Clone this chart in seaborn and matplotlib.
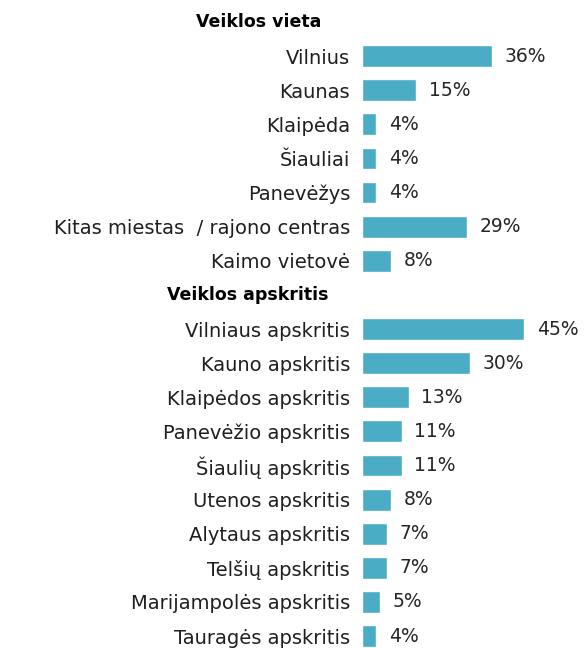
import matplotlib
matplotlib.use("Agg")
import matplotlib.pyplot as plt
import matplotlib.transforms as mtransforms
import seaborn as sns
import pandas as pd
import numpy as np

sns.set_theme(style="white")
plt.rcParams['font.family'] = ['DejaVu Sans']

header1 = "Veiklos vieta"
cities = ["Vilnius", "Kaunas", "Klaipėda", "Šiauliai", "Panevėžys",
          "Kitas miestas  / rajono centras", "Kaimo vietovė"]
city_vals = [36, 15, 4, 4, 4, 29, 8]

header2 = "Veiklos apskritis"
counties = ["Vilniaus apskritis", "Kauno apskritis", "Klaipėdos apskritis",
            "Panevėžio apskritis", "Šiaulių apskritis", "Utenos apskritis",
            "Alytaus apskritis", "Telšių apskritis", "Marijampolės apskritis",
            "Tauragės apskritis"]
county_vals = [45, 30, 13, 11, 11, 8, 7, 7, 5, 4]

labels = [header1] + cities + [header2] + counties
values = [0] + city_vals + [0] + county_vals
is_header = [True] + [False] * len(cities) + [True] + [False] * len(counties)
df = pd.DataFrame({"label": labels, "value": values})

fig = plt.figure(figsize=(5.84, 6.48), dpi=100)
ax = fig.add_axes([362/584, 0, 1 - 362/584, 1])

sns.barplot(data=df, y="label", x="value", order=labels, color="#4BACC6",
            saturation=1, width=0.64, ax=ax, orient="h")

ax.set_xlim(0, 61.5)
ax.set_ylim(18.35, -0.645)
ax.set_xlabel("")
ax.set_ylabel("")
ax.set_xticks([])
for s in ax.spines.values():
    s.set_visible(False)

ax.set_yticks(range(len(labels)))
ticklabels = ["" if h else l for l, h in zip(labels, is_header)]
ax.set_yticklabels(ticklabels, fontsize=14, color="#1f1f1f")
ax.tick_params(axis="y", length=0, pad=8.5)

cont = ax.containers[0]
bar_texts = ["" if h else f"{v:.0f}%" for v, h in zip(values, is_header)]
ax.bar_label(cont, labels=bar_texts, padding=9, fontsize=13.5, color="#262626")

trans = mtransforms.blended_transform_factory(fig.transFigure, ax.transData)
ax.text(259/584, labels.index(header1), header1, transform=trans, ha="center",
        va="center", fontsize=12.5, fontweight="bold", color="#000000")
ax.text(248/584, labels.index(header2), header2, transform=trans, ha="center",
        va="center", fontsize=12.5, fontweight="bold", color="#000000")

fig.savefig("out.png", dpi=100)
